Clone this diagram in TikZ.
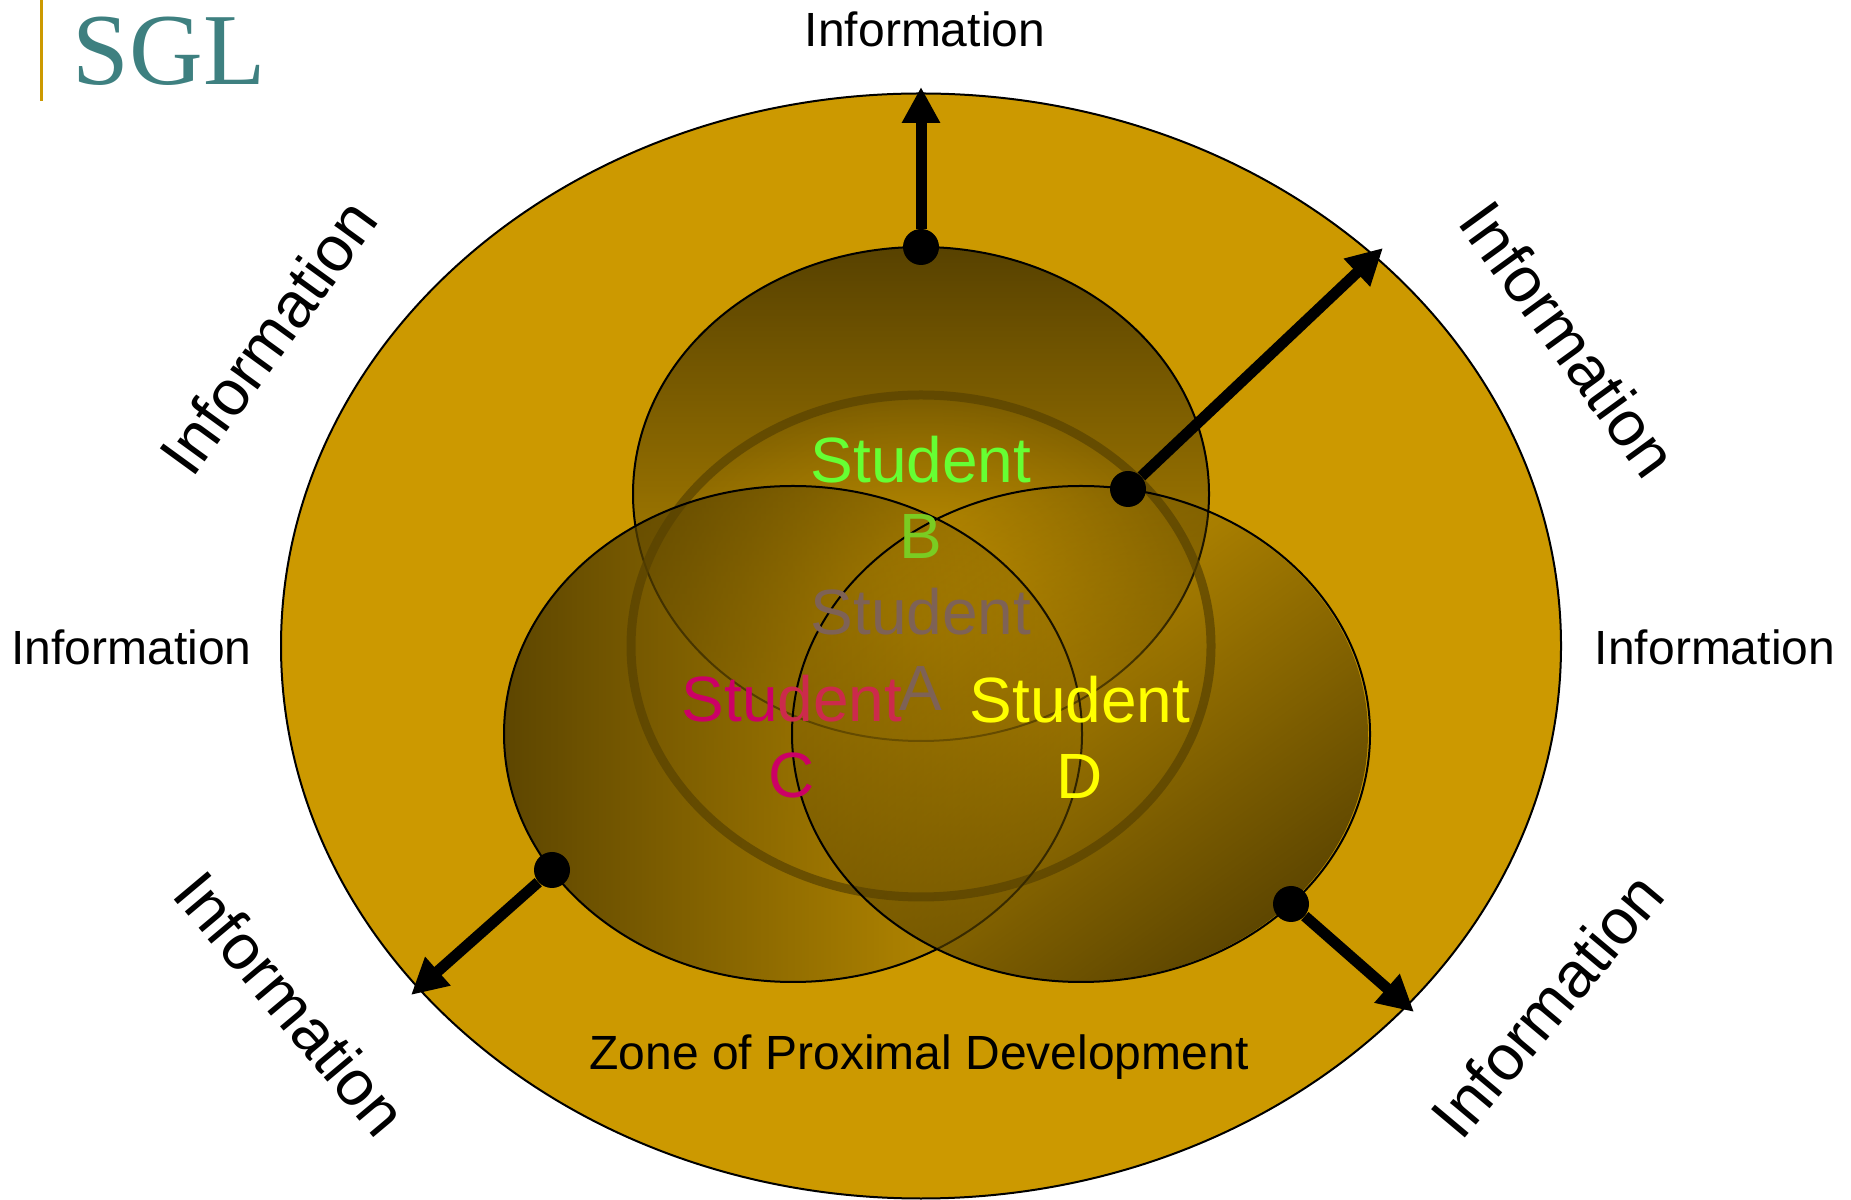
\documentclass[tikz,border=0pt]{standalone}
\usepackage{fontspec}
\setmainfont{Liberation Sans}
\newfontfamily\sglfont{Liberation Serif}
\usetikzlibrary{arrows.meta,fadings}

\definecolor{zonegold}{RGB}{204,153,0}
\definecolor{deepgold}{RGB}{88,66,0}
\definecolor{glowgold}{RGB}{198,148,0}
\definecolor{sglteal}{RGB}{62,128,128}
\definecolor{studB}{RGB}{102,255,51}
\definecolor{studBdim}{RGB}{122,204,34}
\definecolor{studA}{RGB}{126,98,86}
\definecolor{studC}{RGB}{204,0,102}
\definecolor{studCdim}{RGB}{204,42,76}
\definecolor{studD}{RGB}{255,255,0}

\tikzfading[name=fadeB, top color=transparent!0, middle color=transparent!55, bottom color=transparent!100]
\tikzfading[name=fadeC, left color=transparent!5, middle color=transparent!65, right color=transparent!100]
\tikzfading[name=fadeD, left color=transparent!100, middle color=transparent!78, right color=transparent!5]
\tikzfading[name=fadeA, inner color=transparent!0, outer color=transparent!100]

\tikzset{
  rim/.style={draw=black, line width=1pt},
  dot/.style={circle, fill=black, minimum size=18pt, inner sep=0pt},
  infoarrow/.style={line width=5.5pt, -{Triangle[length=18pt, width=18pt]}},
  infolabel/.style={font=\fontsize{24}{29}\selectfont, inner sep=0pt},
  biglabel/.style={font=\fontsize{32}{38}\selectfont, inner sep=0pt},
  student/.style={font=\fontsize{32}{38}\selectfont, align=center, inner sep=0pt},
}

\begin{document}
\begin{tikzpicture}[x=0.5pt,y=0.5pt]
\useasboundingbox (0,0) rectangle (1851,1199);

% title
\fill[zonegold] (40,1098) rectangle (43,1199);
\node[font=\sglfont\fontsize{51}{60}\selectfont, text=sglteal, anchor=base, inner sep=0pt] (sgl) at (169,1114) {SGL};

\coordinate (zone) at (921,553);
\coordinate (cB) at (921,705);
\coordinate (cA) at (921,553);
\coordinate (cC) at (793,465);
\coordinate (cD) at (1081,465);

% zone of proximal development
\filldraw[fill=zonegold, rim] (zone) ellipse [x radius=320pt, y radius=276.25pt];

% the students
\fill[deepgold, path fading=fadeB] (cB) ellipse [x radius=144pt, y radius=123.5pt];
\draw[rim] (cB) ellipse [x radius=144pt, y radius=123.5pt];
\fill[glowgold, path fading=fadeA] (cA) ellipse [x radius=145pt, y radius=125.5pt];
\draw[deepgold, line width=4.5pt, draw opacity=0.7] (cA) ellipse [x radius=145pt, y radius=125.5pt];
\fill[deepgold, path fading=fadeC] (cC) ellipse [x radius=144.5pt, y radius=124pt];
\draw[rim] (cC) ellipse [x radius=144.5pt, y radius=124pt];
\fill[deepgold, path fading=fadeD, fading angle=-50] (cD) ellipse [x radius=144.5pt, y radius=124pt];
\draw[rim] (cD) ellipse [x radius=144.5pt, y radius=124pt];

\node[student] (stuB) at (921,702) {\textcolor{studB}{Student}\\\textcolor{studBdim}{B}};
\node[student] (stuA) at (921,550) {\textcolor{studA}{Student}\\\textcolor{studA}{A}};
\node[student] (stuC) at (792,462) {\textcolor{studC}{Stu}\textcolor{studCdim}{dent}\\\textcolor{studC}{C}};
\node[student] (stuD) at (1080,462) {\textcolor{studD}{Student}\\\textcolor{studD}{D}};

% information flowing out
\node[dot] (dotN) at (921,952) {};
\node[dot] (dotNE) at (1128,710) {};
\node[dot] (dotSW) at (552,329) {};
\node[dot] (dotSE) at (1291,295) {};
\coordinate (tipN) at (921,1112);
\coordinate (tipNE) at (1383,951);
\coordinate (tipSW) at (411,204);
\coordinate (tipSE) at (1414,187);
\draw[infoarrow] (dotN) -- (tipN);
\draw[infoarrow] (dotNE) -- (tipNE);
\draw[infoarrow] (dotSW) -- (tipSW);
\draw[infoarrow] (dotSE) -- (tipSE);

\node[infolabel, anchor=base] (infoN) at (925,1152) {Information};
\node[infolabel, anchor=base] (infoW) at (131.5,534.5) {Information};
\node[infolabel, anchor=base] (infoE) at (1715,534.5) {Information};
\node[biglabel, rotate=54] (infoNW) at (268,862) {Information};
\node[biglabel, rotate=-54] (infoNE) at (1569,860) {Information};
\node[biglabel, rotate=-50] (infoSW) at (291,196) {Information};
\node[biglabel, rotate=50] (infoSE) at (1547,194) {Information};
\node[infolabel, anchor=base] (zpd) at (919,129.5) {Zone of Proximal Development};
\end{tikzpicture}
\end{document}
